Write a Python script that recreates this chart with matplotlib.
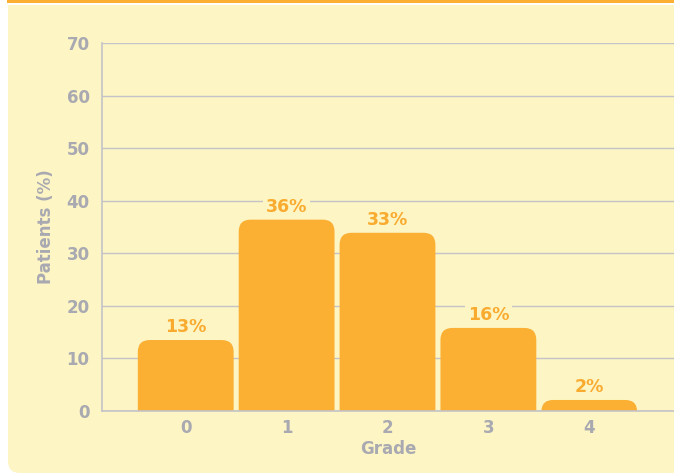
import matplotlib.pyplot as plt
from matplotlib.patches import FancyBboxPatch, Rectangle

grades = ["0", "1", "2", "3", "4"]
patients = [13.5, 36.4, 33.9, 15.8, 2.1]
labels = ["13%", "36%", "33%", "16%", "2%"]
yticks = [0, 10, 20, 30, 40, 50, 60, 70]

bar_col = "#fbb034"
lab_col = "#f9ab2f"
bg_col = "#fdf5c4"
grey = "#a9a9b1"
grid_col = "#c3c3c9"

plt.rcParams["font.family"] = ["DejaVu Sans"]
W, H = 674, 475
fig = plt.figure(figsize=(W / 100, H / 100), dpi=100)
fig.patch.set_facecolor("white")

# panneau jaune avec coin arrondi en bas a gauche seulement
panel = FancyBboxPatch((8 / W, 2 / H), 1.2, 1 - 7 / H,
                       boxstyle="round,pad=0,rounding_size=%f" % (12 / W),
                       mutation_aspect=W / H,
                       transform=fig.transFigure, facecolor=bg_col,
                       edgecolor="none", zorder=-2)
fig.patches.append(panel)
fig.patches.append(Rectangle((8 / W, 0.5), 1, 0.5 - 5 / H, transform=fig.transFigure,
                             facecolor=bg_col, edgecolor="none", zorder=-2))
fig.patches.append(Rectangle((7 / W, 1 - 3 / H), 1, 3 / H, transform=fig.transFigure,
                             facecolor=bar_col, edgecolor="none", zorder=-2))

ax = fig.add_axes([102 / W, 1 - 411 / H, 1 - 102 / W, 368 / H])
ax.set_facecolor("none")

x = list(range(len(grades)))
bars = ax.bar(x, patients, width=0.95, color=bar_col, zorder=3)

# remplacer les rectangles par des barres aux coins arrondis
xpx = 101.0
ypx = 368 / 70
r = 12
for b in bars:
    b.set_visible(False)
    p = FancyBboxPatch((b.get_x(), -r / ypx), b.get_width(), b.get_height() + r / ypx,
                       boxstyle="round,pad=0,rounding_size=%f" % (r / xpx),
                       mutation_aspect=xpx / ypx, facecolor=bar_col,
                       edgecolor="none", zorder=3, clip_on=True)
    ax.add_patch(p)

for xi, v, lab in zip(x, patients, labels):
    ax.text(xi, v + 13 / ypx, lab, ha="center", va="center", color=lab_col,
            fontsize=12.5, fontweight="bold", zorder=4,
            bbox=dict(facecolor=bg_col, edgecolor="none", pad=2))

ax.set_xlim(-0.83, 4.84)
ax.set_ylim(0, 70)
ax.set_yticks(yticks)
ax.set_xticks(x)
ax.set_xticklabels(grades)
ax.grid(axis="y", color=grid_col, lw=1, zorder=1)
ax.set_axisbelow(True)
for s in ["top", "right"]:
    ax.spines[s].set_visible(False)
for s in ["left", "bottom"]:
    ax.spines[s].set_color(grid_col)
    ax.spines[s].set_linewidth(1.2)
    ax.spines[s].set_zorder(5)
ax.tick_params(axis="x", length=0, colors=grey, labelsize=12, pad=6)
ax.tick_params(axis="y", length=0, colors=grey, labelsize=12, pad=9)
for t in ax.get_xticklabels() + ax.get_yticklabels():
    t.set_fontweight("bold")
ax.set_xlabel("Grade", color=grey, fontsize=12, fontweight="bold", labelpad=2)
ax.set_ylabel("Patients (%)", color=grey, fontsize=12, fontweight="bold", labelpad=8)

fig.savefig("out.png", dpi=100, facecolor=fig.get_facecolor())
